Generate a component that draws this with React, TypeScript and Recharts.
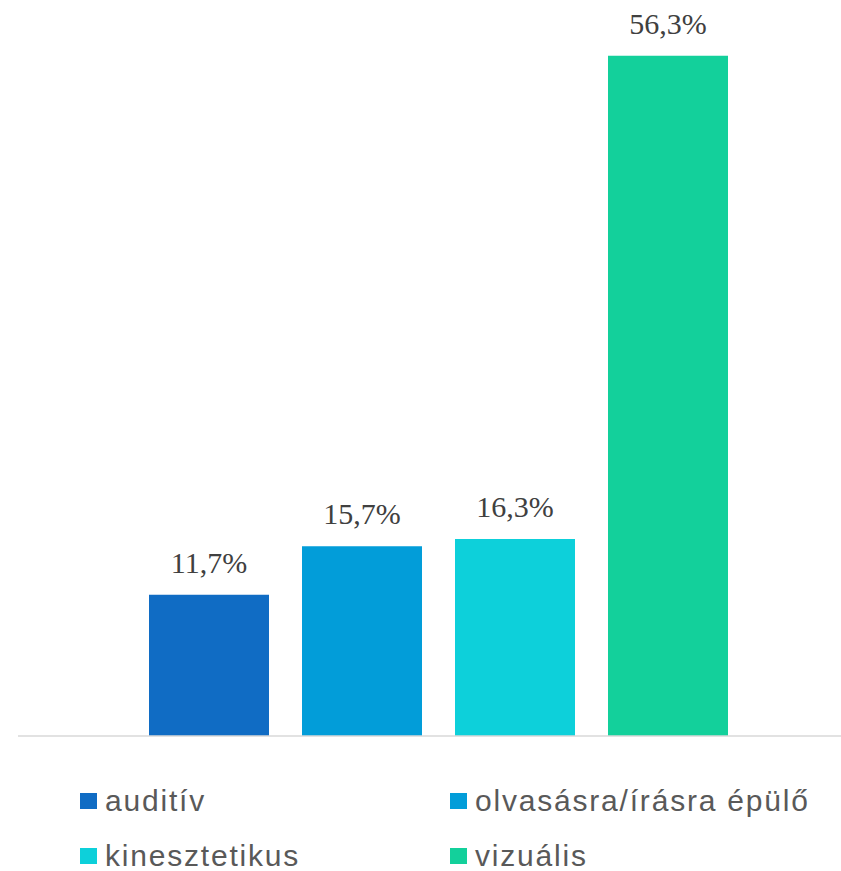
import { BarChart, Bar, XAxis, YAxis, Legend, LabelList } from "recharts";

const SERIES_KEYS = ["auditiv", "olvasas", "kinesztetikus", "vizualis"];
const SERIES_NAMES = ["auditív", "olvasásra/írásra épülő", "kinesztetikus", "vizuális"];
const SERIES_VALUES = [11.7, 15.7, 16.3, 56.3];
const SERIES_COLORS = ["#106cc4", "#029dd9", "#0dd0da", "#13d09b"];

const row: Record<string, number | string> = { name: "" };
SERIES_KEYS.forEach((k, i) => {
  row[k] = SERIES_VALUES[i];
});
const data = [row];

// 11.7 -> "11,7%"
const fmt = (v: unknown) => `${Number(v).toFixed(1).replace(".", ",")}%`;

function LegendBox({ payload }: { payload?: any[] }) {
  // keep series order (recharts 3 sorts legend items by default)
  const items = SERIES_NAMES.map((n, i) => {
    const p = payload?.find((x) => x.value === n);
    return { name: n, color: (p?.color as string) ?? SERIES_COLORS[i] };
  });
  return (
    <div
      style={{
        display: "grid",
        gridTemplateColumns: "370px 390px",
        rowGap: 21,
        fontFamily: "'Liberation Sans', Arial, sans-serif",
        fontSize: 30,
        letterSpacing: 1.8,
        color: "#595959",
        lineHeight: "34px",
      }}
    >
      {items.map((it) => (
        <div key={it.name} style={{ display: "flex", alignItems: "center", whiteSpace: "nowrap" }}>
          <span
            style={{
              display: "inline-block",
              width: 17,
              height: 16,
              background: it.color,
              marginRight: 8,
              flex: "none",
            }}
          />
          <span>{it.name}</span>
        </div>
      ))}
    </div>
  );
}

export default function App() {
  return (
    <div style={{ position: "absolute", left: 0, top: 0, width: 841, height: 871, background: "#fff", overflow: "hidden" }}>
      <BarChart
        width={841}
        height={871}
        data={data}
        margin={{ top: 11, right: 0, left: 18, bottom: 105 }}
        barGap={33}
      >
        <XAxis
          dataKey="name"
          tick={false}
          tickLine={false}
          axisLine={{ stroke: "#d9d9d9", strokeWidth: 1.5 }}
          padding={{ left: 18, right: 0 }}
          height={30}
        />
        <YAxis hide domain={[0, 60]} />
        <Legend
          layout="horizontal"
          verticalAlign="middle"
          align="center"
          wrapperStyle={{ top: 784, left: 80, width: 760 }}
          content={(props: any) => <LegendBox payload={props.payload} />}
        />
        {SERIES_KEYS.map((k, i) => (
          <Bar
            key={k}
            dataKey={k}
            name={SERIES_NAMES[i]}
            fill={SERIES_COLORS[i]}
            barSize={120}
            isAnimationActive={false}
          >
            <LabelList
              dataKey={k}
              position="top"
              offset={22}
              formatter={fmt}
              style={{
                fontFamily: "'Liberation Serif', 'DejaVu Serif', serif",
                fontSize: 30,
                fill: "#404040",
              }}
            />
          </Bar>
        ))}
      </BarChart>
    </div>
  );
}
